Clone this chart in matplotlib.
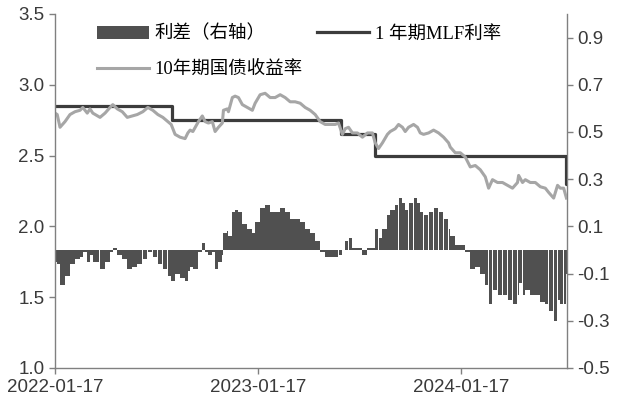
import numpy as np
import pandas as pd
import matplotlib
matplotlib.use('Agg')
import matplotlib.pyplot as plt
import matplotlib.dates as mdates
from matplotlib.patches import Patch
from matplotlib.lines import Line2D

# 10年期国债收益率
yld_dates = ['2022-01-17', '2022-01-21', '2022-01-26', '2022-02-04', '2022-02-13', '2022-02-22',
             '2022-03-03', '2022-03-08', '2022-03-16', '2022-03-21', '2022-03-26', '2022-04-08',
             '2022-04-17', '2022-04-26', '2022-05-01', '2022-05-09', '2022-05-18', '2022-05-27',
             '2022-06-05', '2022-06-14', '2022-06-24', '2022-07-03', '2022-07-12', '2022-07-21',
             '2022-07-30', '2022-08-08', '2022-08-14', '2022-08-21', '2022-08-30', '2022-09-08',
             '2022-09-13', '2022-09-17', '2022-09-22', '2022-10-02', '2022-10-09', '2022-10-14',
             '2022-10-20', '2022-10-27', '2022-11-01', '2022-11-07', '2022-11-14', '2022-11-16',
             '2022-11-23', '2022-11-25', '2022-12-02', '2022-12-07', '2022-12-13', '2022-12-20',
             '2022-12-29', '2023-01-07', '2023-01-12', '2023-01-21', '2023-01-30', '2023-02-08',
             '2023-02-17', '2023-02-26', '2023-03-07', '2023-03-16', '2023-03-25', '2023-04-03',
             '2023-04-12', '2023-04-21', '2023-04-30', '2023-05-09', '2023-05-18', '2023-05-27',
             '2023-06-05', '2023-06-11', '2023-06-18', '2023-06-23', '2023-06-29', '2023-07-06',
             '2023-07-15', '2023-07-24', '2023-08-02', '2023-08-11', '2023-08-16', '2023-08-22',
             '2023-08-29', '2023-09-07', '2023-09-12', '2023-09-21', '2023-09-27', '2023-10-04',
             '2023-10-09', '2023-10-15', '2023-10-24', '2023-10-31', '2023-11-05', '2023-11-11',
             '2023-11-20', '2023-11-29', '2023-12-08', '2023-12-17', '2023-12-26', '2023-12-29',
             '2024-01-07', '2024-01-16', '2024-01-25', '2024-02-03', '2024-02-12', '2024-02-21',
             '2024-03-01', '2024-03-07', '2024-03-14', '2024-03-23', '2024-04-01', '2024-04-10',
             '2024-04-19', '2024-04-28', '2024-04-30', '2024-05-07', '2024-05-12', '2024-05-21',
             '2024-05-30', '2024-06-08', '2024-06-17', '2024-06-23', '2024-07-02', '2024-07-09',
             '2024-07-14', '2024-07-20', '2024-07-25']
yld = [2.80, 2.79, 2.70, 2.74, 2.79, 2.81,
       2.82, 2.84, 2.80, 2.83, 2.80, 2.77,
       2.80, 2.84, 2.86, 2.83, 2.81, 2.77,
       2.78, 2.79, 2.81, 2.84, 2.82, 2.79,
       2.77, 2.74, 2.72, 2.65, 2.63, 2.62,
       2.66, 2.68, 2.67, 2.74, 2.78, 2.74,
       2.73, 2.74, 2.67, 2.70, 2.73, 2.82,
       2.83, 2.81, 2.91, 2.92, 2.91, 2.86,
       2.84, 2.82, 2.87, 2.93, 2.94, 2.91,
       2.91, 2.93, 2.91, 2.88, 2.88, 2.87,
       2.84, 2.82, 2.79, 2.74, 2.72, 2.72,
       2.72, 2.73, 2.65, 2.69, 2.70, 2.66,
       2.66, 2.63, 2.66, 2.66, 2.59, 2.55,
       2.59, 2.65, 2.67, 2.69, 2.72, 2.70,
       2.67, 2.70, 2.72, 2.70, 2.66, 2.65,
       2.66, 2.68, 2.66, 2.63, 2.59, 2.56,
       2.52, 2.52, 2.49, 2.42, 2.43, 2.40,
       2.35, 2.27, 2.33, 2.31, 2.31, 2.29,
       2.27, 2.31, 2.36, 2.31, 2.33, 2.31,
       2.31, 2.28, 2.27, 2.24, 2.20, 2.29,
       2.27, 2.27, 2.20]

# 1年期MLF利率
mlf_dates = ['2022-01-17', '2022-08-15', '2023-06-15', '2023-08-15', '2024-07-25']
mlf = [2.85, 2.75, 2.65, 2.50, 2.30]

x_end = '2024-07-26'
xticks = ['2022-01-17', '2023-01-17', '2024-01-17']

yd = pd.to_datetime(yld_dates)
md = pd.to_datetime(mlf_dates)
yv = np.array(yld)
mv = np.array(mlf)

# spread = yield - MLF in effect
idx = np.searchsorted(md.values, yd.values, side='right') - 1
spread = yv - mv[idx]

widths = np.append(np.diff(yd.values).astype('timedelta64[D]').astype(float), 1.0) * 0.92

plt.rcParams['font.family'] = ['Liberation Sans', 'DejaVu Sans']
tick_color = '#3a3a3a'
spine_color = '#808080'

fig = plt.figure(figsize=(6.28, 4.08), dpi=100)
ax = fig.add_axes([55/628, 1-368/408, (567-55)/628, (368-14)/408])
ax2 = ax.twinx()

ax2.bar(mdates.date2num(yd), spread, width=widths, align='edge', color='#505050', linewidth=0)

mx = list(md) + [pd.Timestamp(x_end)]
my = list(mv) + [mv[-1]]
ax.step(mx, my, where='post', color='#3c3c3c', lw=2.3)
ax.plot(yd, yv, color='#a6a6a6', lw=2.2)

ax.set_zorder(ax2.get_zorder() + 1)
ax.patch.set_visible(False)

ax.set_xlim(pd.Timestamp('2022-01-17'), pd.Timestamp(x_end))
ax.set_ylim(1.0, 3.5)
ax.set_yticks(np.arange(1.0, 3.51, 0.5))
ax.yaxis.set_major_formatter(plt.FormatStrFormatter('%.1f'))
ax2.set_ylim(-0.5, 1.0)
ax2.set_yticks(np.arange(-0.5, 0.91, 0.2))
ax2.yaxis.set_major_formatter(plt.FormatStrFormatter('%.1f'))
ax.set_xticks(pd.to_datetime(xticks))
ax.set_xticklabels(xticks)

for a in (ax, ax2):
    a.spines['top'].set_visible(False)
    for s in ('left', 'right', 'bottom'):
        a.spines[s].set_color(spine_color)
        a.spines[s].set_linewidth(1.0)
    a.tick_params(colors=spine_color, labelcolor=tick_color, labelsize=13.5,
                  length=4, width=1, direction='out')
ax.spines['right'].set_visible(False)
ax2.spines['left'].set_visible(False)
ax2.spines['bottom'].set_visible(False)
ax.tick_params(axis='x', pad=4)

handles = [Patch(facecolor='#505050', edgecolor='none'),
           Line2D([], [], color='#a6a6a6', lw=2.2),
           Line2D([], [], color='#3c3c3c', lw=2.3)]
labels = ['利差（右轴）', '10年期国债收益率', '1 年期MLF利率']
fig.legend(handles, labels, ncol=2, loc='upper left', bbox_to_anchor=(97/628, 1-25/408),
           frameon=False, borderpad=0, borderaxespad=0, handlelength=2.8,
           handletextpad=0.3, columnspacing=0.8, labelspacing=1.0,
           prop={'family': ['Liberation Serif', 'Noto Sans CJK SC'], 'size': 13.3})

fig.savefig('out.png', dpi=100)
